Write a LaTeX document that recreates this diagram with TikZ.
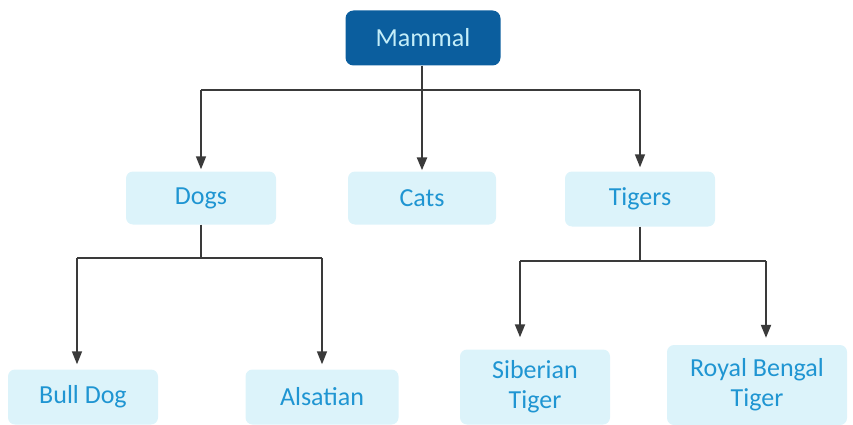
\documentclass[tikz,border=0pt]{standalone}
\usepackage{fontspec}
\setmainfont{Carlito}
\usetikzlibrary{arrows.meta}
\definecolor{boxfill}{HTML}{DCF3FA}
\definecolor{txtblue}{HTML}{1F95D2}
\definecolor{darkbox}{HTML}{0B5E9E}
\definecolor{lighttxt}{HTML}{C4EEF9}
\definecolor{linegray}{HTML}{3A3A3A}
\tikzset{
  leaf/.style={fill=boxfill, draw=none, rounded corners=7pt, text=txtblue,
    font=\fontsize{26}{30}\selectfont, align=center, inner sep=0pt},
  root/.style={fill=darkbox, draw=none, rounded corners=8pt, text=lighttxt,
    font=\fontsize{26}{30}\selectfont, inner sep=0pt},
  conn/.style={draw=linegray, line width=1.5pt},
  arr/.style={conn, -{Triangle[length=13pt,width=10pt]}},
}
\begin{document}
\begin{tikzpicture}[x=1pt,y=-1pt]
\useasboundingbox (0,0) rectangle (853,425);
\node[root, minimum width=155pt, minimum height=55pt] (mammal) at (423,38) {Mammal};
\node[leaf, minimum width=150pt, minimum height=53pt] (dogs) at (201,198) {Dogs};
\node[leaf, minimum width=148pt, minimum height=53pt] (cats) at (422,198) {Cats};
\node[leaf, minimum width=150pt, minimum height=55pt] (tigers) at (640,199) {Tigers};
\node[leaf, minimum width=150pt, minimum height=55pt] (bulldog) at (83,397) {Bull Dog};
\node[leaf, minimum width=153pt, minimum height=55pt] (alsatian) at (322,397) {Alsatian};
\node[leaf, minimum width=150pt, minimum height=75pt] (siberian) at (535,387) {Siberian\\Tiger};
\node[leaf, minimum width=180pt, minimum height=80pt] (royal) at (757,385) {Royal Bengal\\Tiger};
\coordinate (bar) at (0,90);
\coordinate (dbar) at (0,258);
\coordinate (tbar) at (0,261);
% top level
\draw[conn] (dogs.north |- bar) -- (tigers.north |- bar);
\draw[arr] (dogs.north |- bar) -- ([yshift=2pt]dogs.north);
\draw[arr, line width=2.5pt] (mammal.south -| cats.north) -- ([yshift=1pt]cats.north);
\draw[arr] (tigers.north |- bar) -- ([yshift=4pt]tigers.north);
% dogs
\draw[conn] (dogs.south) -- (dogs.south |- dbar);
\draw[conn] ([xshift=-6pt]bulldog.north |- dbar) -- (alsatian.north |- dbar);
\draw[arr] ([xshift=-6pt]bulldog.north |- dbar) -- ([xshift=-6pt,yshift=5pt]bulldog.north);
\draw[arr] (alsatian.north |- dbar) -- ([yshift=5pt]alsatian.north);
% tigers
\draw[conn] (tigers.south) -- (tigers.south |- tbar);
\draw[conn] ([xshift=-15pt]siberian.north |- tbar) -- ([xshift=9pt]royal.north |- tbar);
\draw[arr, line width=2pt] ([xshift=-15pt]siberian.north |- tbar) -- ([xshift=-15pt,yshift=12pt]siberian.north);
\draw[arr, line width=2pt] ([xshift=9pt]royal.north |- tbar) -- ([xshift=9pt,yshift=7pt]royal.north);
\end{tikzpicture}
\end{document}
